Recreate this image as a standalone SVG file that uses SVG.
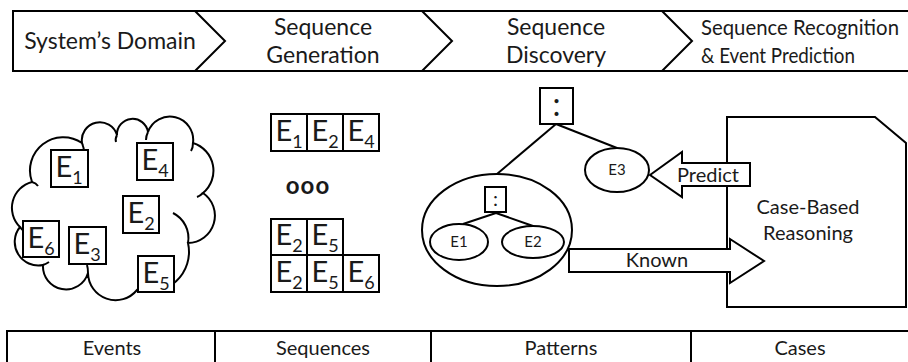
<svg xmlns="http://www.w3.org/2000/svg" width="908" height="362" viewBox="0 0 908 362">
<style>
.ln{fill:none;stroke:#000;stroke-width:2;stroke-linejoin:miter}
.bx{fill:#fff;stroke:#000;stroke-width:2}
.t{font-family:Lato,"Liberation Sans",sans-serif;fill:#1a1a1a}
.hd{font-size:23px}
.hr{font-size:21px}
.ev{font-size:29px;text-anchor:middle}
.sub{font-size:18px}
.lb{font-size:20px;text-anchor:middle}
.sm{font-size:15px;text-anchor:middle}
</style>
<rect width="908" height="362" fill="#fff"/>

<g id="stages">
  <path class="ln" d="M910,11 H13 V71 H910"/>
  <polyline class="ln" points="195,11 225,41 195,71"/>
  <polyline class="ln" points="422,11 452,41 422,71"/>
  <polyline class="ln" points="662,11 692,41 662,71"/>
  <text class="t hd" x="110" y="49" text-anchor="middle">System’s Domain</text>
  <text class="t hd" x="323" y="35" text-anchor="middle">Sequence</text>
  <text class="t hd" x="323" y="63" text-anchor="middle">Generation</text>
  <text class="t hd" x="556" y="35" text-anchor="middle">Sequence</text>
  <text class="t hd" x="556" y="63" text-anchor="middle">Discovery</text>
  <text class="t hr" x="701" y="35" textLength="198" lengthAdjust="spacingAndGlyphs">Sequence Recognition</text>
  <text class="t hr" x="701" y="63" textLength="154" lengthAdjust="spacingAndGlyphs">&amp; Event Prediction</text>
</g>

<g id="events-cloud">
  <path class="ln" d="M32,182 A33.3,33.3 0 0 1 82,143 A18,18 0 0 1 117,135 A15.6,15.6 0 0 1 148,132 A23.3,23.3 0 0 1 193,143 A29,29 0 0 1 203,193 A27.4,27.4 0 0 1 188,243 A40,40 0 0 1 137,290 A27.6,27.6 0 0 1 88,273 A23,23 0 0 1 43,265 A23.6,23.6 0 0 1 20,227 A26.7,26.7 0 0 1 32,182 Z"/>
  <path class="ln" d="M82,143 Q84,148 84,152"/>
  <path class="ln" d="M117,135 Q115,139 116,142"/>
  <path class="ln" d="M148,132 Q146,136 146,140"/>
  <path class="ln" d="M193,143 Q193,148 191,151"/>
  <path class="ln" d="M203,193 Q200,196 197,197"/>
  <path class="ln" d="M173,213 A28,28 0 0 1 188,243"/>
  <path class="ln" d="M88,273 Q88,268 87,265"/>
  <path class="ln" d="M43,265 Q46,264 49,262"/>
  <path class="ln" d="M20,227 Q22,230 24,231"/>
  <path class="ln" d="M32,182 Q36,183 38,186"/>
</g>
<g id="e1"><rect class="bx" x="51" y="150" width="37" height="37"/><text class="t ev" x="69" y="177">E<tspan class="sub" dy="7">1</tspan></text></g>
<g id="e4"><rect class="bx" x="137" y="143" width="36" height="37"/><text class="t ev" x="155" y="170">E<tspan class="sub" dy="7">4</tspan></text></g>
<g id="e2"><rect class="bx" x="123" y="196" width="36" height="37"/><text class="t ev" x="141" y="223">E<tspan class="sub" dy="7">2</tspan></text></g>
<g id="e6"><rect class="bx" x="23" y="221" width="36" height="36"/><text class="t ev" x="41" y="248">E<tspan class="sub" dy="7">6</tspan></text></g>
<g id="e3"><rect class="bx" x="69" y="227" width="37" height="37"/><text class="t ev" x="87" y="254">E<tspan class="sub" dy="7">3</tspan></text></g>
<g id="e5"><rect class="bx" x="138" y="256" width="36" height="36"/><text class="t ev" x="156" y="283">E<tspan class="sub" dy="7">5</tspan></text></g>

<g id="sequences">
  <rect class="bx" x="271" y="114" width="36" height="37"/>
  <rect class="bx" x="307" y="114" width="36" height="37"/>
  <rect class="bx" x="343" y="114" width="36" height="37"/>
  <text class="t ev" x="289" y="141">E<tspan class="sub" dy="7">1</tspan></text>
  <text class="t ev" x="325" y="141">E<tspan class="sub" dy="7">2</tspan></text>
  <text class="t ev" x="361" y="141">E<tspan class="sub" dy="7">4</tspan></text>
  <text class="t" x="308" y="194" font-size="24" font-weight="bold" letter-spacing="1" text-anchor="middle">ooo</text>
  <rect class="bx" x="271" y="219" width="36" height="36"/>
  <rect class="bx" x="307" y="219" width="36" height="36"/>
  <text class="t ev" x="289" y="245">E<tspan class="sub" dy="7">2</tspan></text>
  <text class="t ev" x="325" y="245">E<tspan class="sub" dy="7">5</tspan></text>
  <rect class="bx" x="271" y="255" width="36" height="37"/>
  <rect class="bx" x="307" y="255" width="36" height="37"/>
  <rect class="bx" x="343" y="255" width="36" height="37"/>
  <text class="t ev" x="289" y="282">E<tspan class="sub" dy="7">2</tspan></text>
  <text class="t ev" x="325" y="282">E<tspan class="sub" dy="7">5</tspan></text>
  <text class="t ev" x="361" y="282">E<tspan class="sub" dy="7">6</tspan></text>
</g>

<g id="connectors">
  <line class="ln" x1="556" y1="124" x2="497" y2="174"/>
  <line class="ln" x1="556" y1="124" x2="617" y2="148"/>
  <line class="ln" x1="496" y1="213" x2="463" y2="224"/>
  <line class="ln" x1="496" y1="213" x2="533" y2="226"/>
</g>

<g id="pattern-root"><rect class="bx" x="540" y="88" width="33" height="36"/><text class="t" x="556.5" y="116" font-size="32" text-anchor="middle">:</text></g>
<g id="pattern-known"><ellipse class="ln" cx="497" cy="230" rx="75" ry="56"/></g>
<g id="pattern-sub"><rect class="bx" x="485" y="187" width="21" height="25"/><text class="t" x="495.5" y="206" font-size="20" text-anchor="middle">:</text></g>
<g id="pe1"><ellipse class="bx" cx="459" cy="242" rx="29" ry="18"/><text class="t sm" x="459" y="247">E1</text></g>
<g id="pe2"><ellipse class="bx" cx="533" cy="242" rx="31" ry="16"/><text class="t sm" x="533" y="247">E2</text></g>
<g id="pe3"><ellipse class="bx" cx="617" cy="170" rx="32" ry="22"/><text class="t sm" x="617" y="175">E3</text></g>

<g id="cbr"><path class="bx" d="M727,117 H875 L906,143 V307 H727 Z"/><text class="t lb" x="808" y="214">Case-Based</text><text class="t lb" x="808" y="240">Reasoning</text></g>

<g id="predict"><polygon class="bx" points="650,175 682,152 682,163 750,163 750,186 682,186 682,197"/><text class="t lb" x="708" y="182">Predict</text></g>
<g id="known"><polygon class="bx" points="569,249 730,249 730,239 764,261 730,283 730,272 569,272"/><text class="t lb" x="657" y="267">Known</text></g>

<g id="table">
  <path class="ln" d="M910,331 H7 V370"/>
  <line class="ln" x1="215" y1="331" x2="215" y2="370"/>
  <line class="ln" x1="431" y1="331" x2="431" y2="370"/>
  <line class="ln" x1="691" y1="331" x2="691" y2="370"/>
  <text class="t lb" x="112" y="355" font-size="19">Events</text>
  <text class="t lb" x="323" y="355" font-size="19">Sequences</text>
  <text class="t lb" x="561" y="355" font-size="19">Patterns</text>
  <text class="t lb" x="800" y="355" font-size="19">Cases</text>
</g>
</svg>
